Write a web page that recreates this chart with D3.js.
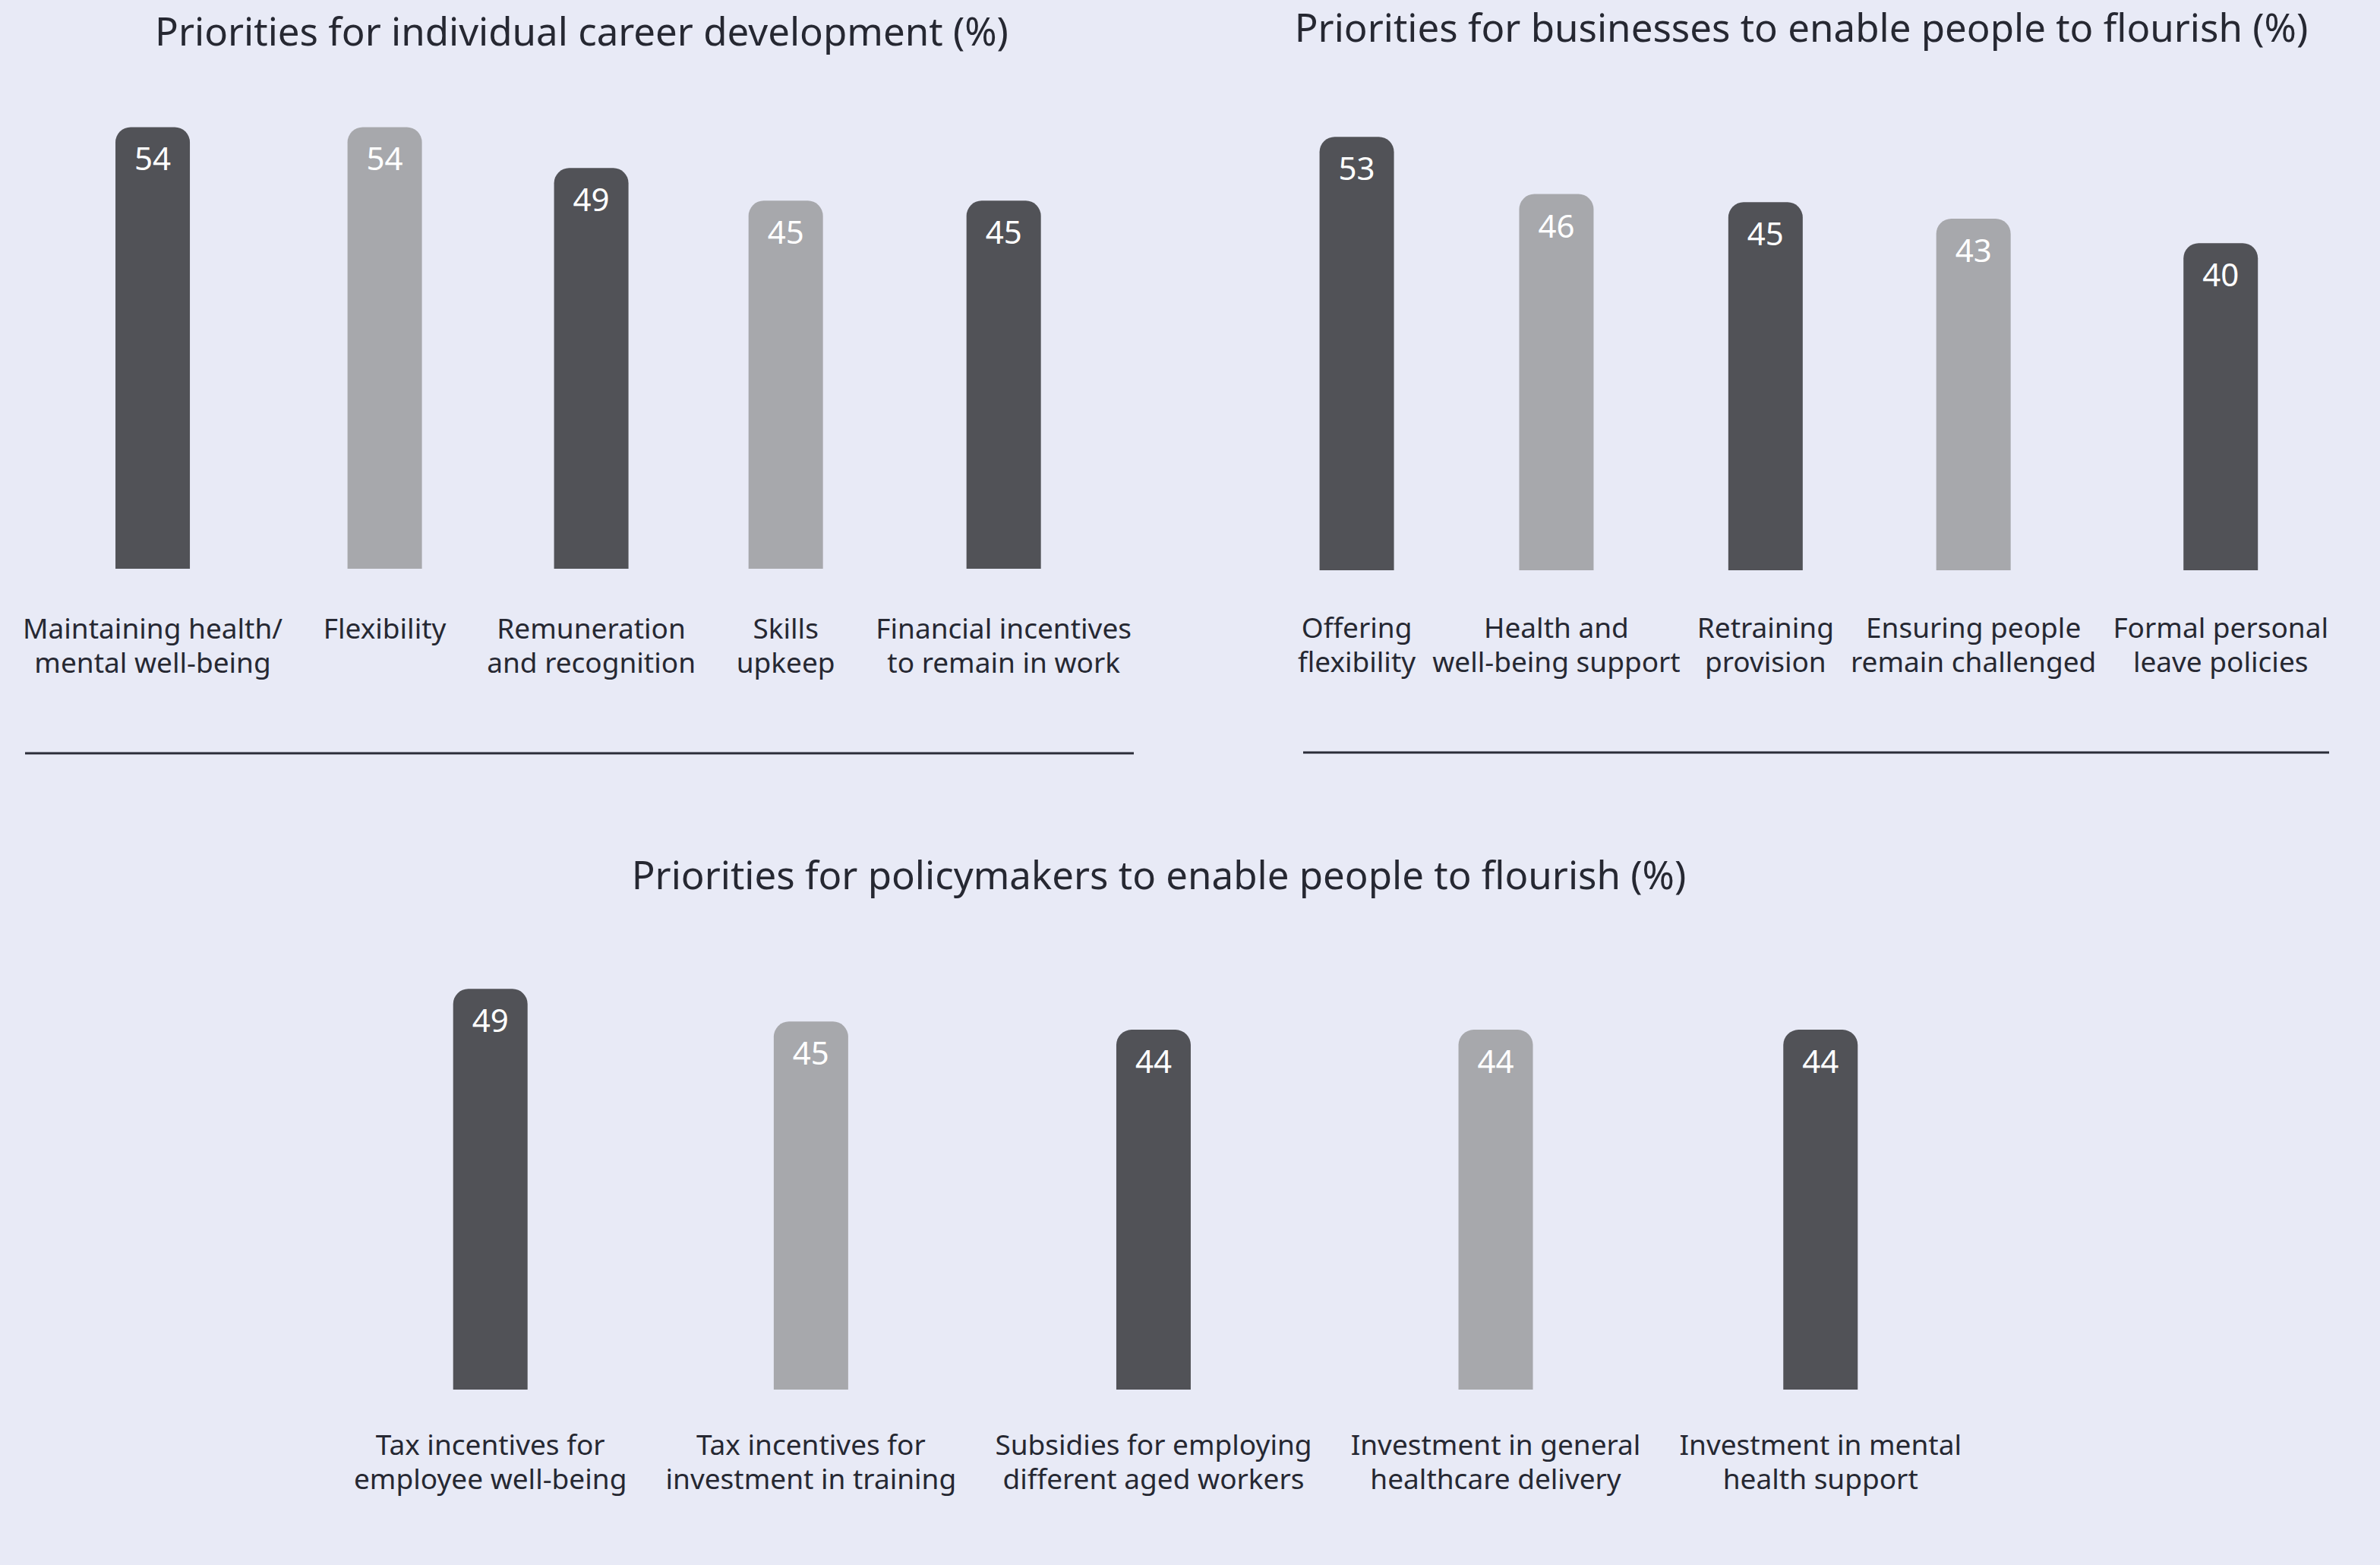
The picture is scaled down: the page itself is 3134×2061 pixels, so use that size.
<!DOCTYPE html>
<html><head><meta charset="utf-8">
<script src="https://cdn.jsdelivr.net/npm/d3@7"></script>
<style>
html,body{margin:0;padding:0;background:#e8eaf6;}
svg{display:block;font-family:"Noto Sans",sans-serif;}
</style></head><body>
<svg id="chart" width="3134" height="2061"></svg>
<script>
// ---- data ----
const careerTitle = "Priorities for individual career development (%)";
const careerCategories = ["Maintaining health/\nmental well-being", "Flexibility", "Remuneration\nand recognition", "Skills\nupkeep", "Financial incentives\nto remain in work"];
const careerValues = [54, 54, 49, 45, 45];

const businessTitle = "Priorities for businesses to enable people to flourish (%)";
const businessCategories = ["Offering\nflexibility", "Health and\nwell-being support", "Retraining\nprovision", "Ensuring people\nremain challenged", "Formal personal\nleave policies"];
const businessValues = [53, 46, 45, 43, 40];

const policyTitle = "Priorities for policymakers to enable people to flourish (%)";
const policyCategories = ["Tax incentives for\nemployee well-being", "Tax incentives for\ninvestment in training", "Subsidies for employing\ndifferent aged workers", "Investment in general\nhealthcare delivery", "Investment in mental\nhealth support"];
const policyValues = [49, 45, 44, 44, 44];

// ---- style / layout ----
const barColors = ["#515257", "#a7a8ac"];
const textColor = "#262832";
const barWidth = 98, radius = 20;
const pxPerUnit = 10.77;

const panels = [
  {title: careerTitle, cats: careerCategories, vals: careerValues, titleX: 766, titleY: 60,
   x0: 30, x1: 1490, base: 749, labelDy: 92, sep: {x0: 33, x1: 1493, y: 992}},
  {title: businessTitle, cats: businessCategories, vals: businessValues, titleX: 2372, titleY: 55,
   x0: 1709, x1: 3066, base: 751, labelDy: 89, sep: {x0: 1716, x1: 3067, y: 991}},
  {title: policyTitle, cats: policyCategories, vals: policyValues, titleX: 1526, titleY: 1171,
   x0: 466, x1: 2583, base: 1830, labelDy: 86, sep: null}
];

const svg = d3.select("#chart");
svg.append("rect").attr("width", 3134).attr("height", 2061).attr("fill", "#e8eaf6");

function barPath(x, y, w, h, r) {
  const p = d3.path();
  p.moveTo(x, y + h);
  p.lineTo(x, y + r);
  p.arcTo(x, y, x + r, y, r);
  p.lineTo(x + w - r, y);
  p.arcTo(x + w, y, x + w, y + r, r);
  p.lineTo(x + w, y + h);
  p.closePath();
  return p.toString();
}

panels.forEach(pn => {
  const g = svg.append("g");
  g.append("text")
    .attr("x", pn.titleX).attr("y", pn.titleY)
    .attr("text-anchor", "middle")
    .attr("font-size", 51).attr("fill", textColor)
    .text(pn.title);

  // category labels (measure first)
  const labels = g.selectAll("text.cat").data(pn.cats).join("text")
    .attr("class", "cat")
    .attr("text-anchor", "middle")
    .attr("font-size", 37).attr("fill", textColor);
  labels.each(function(d) {
    const t = d3.select(this);
    d.split("\n").forEach((line, i) => {
      t.append("tspan").attr("x", 0).attr("dy", i === 0 ? 0 : 45).text(line);
    });
  });
  const widths = [];
  labels.each(function() {
    let w = 0;
    d3.select(this).selectAll("tspan").each(function() { w = Math.max(w, this.getComputedTextLength()); });
    widths.push(w);
  });
  const sum = d3.sum(widths);
  const gap = (pn.x1 - pn.x0 - sum) / (pn.cats.length - 1);
  const centers = [];
  let cur = pn.x0;
  widths.forEach(w => { centers.push(cur + w / 2); cur += w + gap; });

  const x = d3.scaleOrdinal().domain(pn.cats).range(centers);
  const maxV = d3.max(pn.vals);
  const y = d3.scaleLinear().domain([0, maxV]).range([pn.base, pn.base - maxV * pxPerUnit]);

  labels.attr("y", pn.base + pn.labelDy)
    .each(function(d) {
      d3.select(this).selectAll("tspan").attr("x", x(d));
    });

  const data = pn.cats.map((c, i) => ({c, v: pn.vals[i], i}));
  g.selectAll("path.bar").data(data).join("path")
    .attr("class", "bar")
    .attr("d", d => barPath(x(d.c) - barWidth / 2, y(d.v), barWidth, y(0) - y(d.v), radius))
    .attr("fill", d => barColors[d.i % 2]);

  g.selectAll("text.val").data(data).join("text")
    .attr("class", "val")
    .attr("x", d => x(d.c)).attr("y", d => y(d.v) + 57)
    .attr("text-anchor", "middle")
    .attr("font-size", 42).attr("fill", "#ffffff")
    .text(d => d.v);

  if (pn.sep) {
    g.append("line")
      .attr("x1", pn.sep.x0).attr("x2", pn.sep.x1)
      .attr("y1", pn.sep.y).attr("y2", pn.sep.y)
      .attr("stroke", "#2b2d38").attr("stroke-width", 3);
  }
});
</script>
</body></html>
